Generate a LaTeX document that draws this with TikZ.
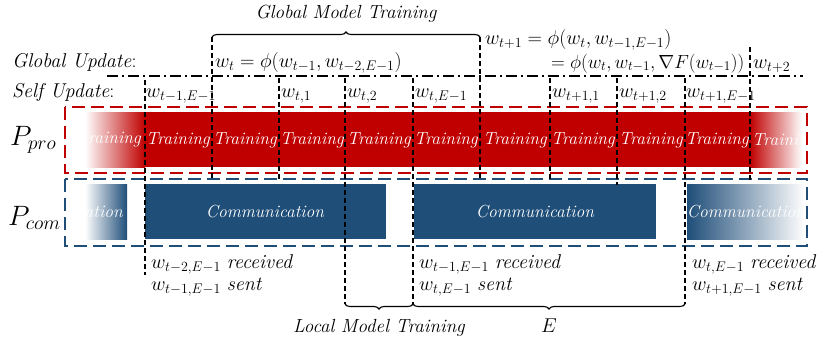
\RequirePackage{fix-cm}
\documentclass[tikz,border=0pt]{standalone}
\usepackage{amsmath, amssymb}
\usepackage{fontspec}
\usepackage{tikz}
\usetikzlibrary{decorations.pathreplacing}
\definecolor{trainred}{RGB}{192,0,0}
\definecolor{commblue}{RGB}{31,78,121}

\begin{document}
\begin{tikzpicture}[x=1pt, y=-1pt,
    label node/.style={anchor=base west, inner sep=0pt, font=\fontsize{20}{24}\selectfont},
    bar text/.style={text=white, inner sep=0pt, font=\fontsize{17.5}{21}\selectfont\itshape},
    time line/.style={line width=1.3pt, dash pattern=on 5pt off 3pt},
    box line/.style={line width=2.3pt, dash pattern=on 13pt off 6pt},
    brace line/.style={decorate, decoration={brace, amplitude=5pt}, line width=1.1pt}]
    \useasboundingbox (0,0) rectangle (830,346);

    \begin{scope}
        \clip (85,100) rectangle (803,250);
        \shade[left color=white, right color=trainred] (85,112) rectangle (145,167);
        \fill[trainred] (145,112) rectangle (750,167);
        \shade[left color=trainred, right color=white] (750,112) rectangle (802,167);
        \shade[left color=white, right color=commblue] (85,184) rectangle (127,239);
        \fill[commblue] (145,184) rectangle (386,239);
        \fill[commblue] (414,184) rectangle (656,239);
        \shade[left color=commblue, right color=white] (687,184) rectangle (805,239);

        \node[bar text, anchor=east] (train0) at (141,140) {raining};
        \foreach \x [count=\i] in {178,245,312,379,446,515,583,651,717}
            \node[bar text] (train\i) at (\x,140) {Training};
        \node[bar text, anchor=west] (train10) at (752,140) {Traini};
        \node[bar text, anchor=east] (comm1) at (123,212) {ation};
        \node[bar text] (comm2) at (265,212) {Communication};
        \node[bar text] (comm3) at (535,212) {Communication};
        \node[bar text] (comm4) at (746,212) {Communication};
    \end{scope}

    \draw[trainred, box line] (65,107) rectangle (807,173);
    \draw[commblue, box line] (65,179) rectangle (807,246);

    \draw[line width=1.3pt, dash pattern=on 11pt off 4pt on 2pt off 4pt] (107,76) -- (803,76);

    \foreach \x/\ya/\yb in {145/80/275, 212/37/180, 279/78/180, 345/78/304, 413/78/304,
                           480/37/180, 550/78/180, 617/78/185, 685/78/304, 750/47/180}
        \draw[time line] (\x,\ya) -- (\x,\yb);

    \draw[brace line] (212,37) -- (480,37);
    \draw[brace line] (413,304) -- (345,304);
    \draw[brace line] (685,304) -- (413,304);

    \node[label node, anchor=base, font=\fontsize{19}{22}\selectfont\itshape] (globaltraining) at (346,18) {Global Model Training};
    \node[label node] (globalupdate) at (12,67) {\textit{Global Update}:};
    \node[label node] (selfupdate) at (12,97) {\textit{Self Update}:};
    \node[label node, font=\fontsize{28}{32}\selectfont] (ppro) at (10,145) {$P_{pro}$};
    \node[label node, font=\fontsize{28}{32}\selectfont] (pcom) at (8,225) {$P_{com}$};

    \node[label node] (globalt) at (215,67) {$w_t = \phi(w_{t-1}, w_{t-2,E-1})$};
    \node[label node] (globaltone) at (485,44) {$w_{t+1} = \phi(w_t, w_{t-1,E-1})$};
    \node[label node, font=\fontsize{19}{22}\selectfont] (globaltonegrad) at (551,68) {$= \phi(w_t, w_{t-1}, \nabla F(w_{t-1}))$};
    \node[label node] (globalttwo) at (753,68) {$w_{t+2}$};

    \foreach \x/\sub [count=\i] in {146/{t-1,E-1}, 281/{t,1}, 347/{t,2}, 415/{t,E-1},
                                   552/{t+1,1}, 619/{t+1,2}, 686/{t+1,E-1}}
        \node[label node] (self\i) at (\x,97) {$w_{\sub}$};

    \node[label node] (received1) at (151,268) {$w_{t-2,E-1}$ \textit{received}};
    \node[label node] (sent1) at (151,290) {$w_{t-1,E-1}$ \textit{sent}};
    \node[label node] (received2) at (419,268) {$w_{t-1,E-1}$ \textit{received}};
    \node[label node] (sent2) at (419,290) {$w_{t,E-1}$ \textit{sent}};
    \node[label node] (received3) at (692,268) {$w_{t,E-1}$ \textit{received}};
    \node[label node] (sent3) at (692,290) {$w_{t+1,E-1}$ \textit{sent}};

    \node[label node, anchor=base, font=\fontsize{19}{22}\selectfont\itshape] (localtraining) at (379,332) {Local Model Training};
    \node[label node, anchor=base] (epochs) at (549,332) {$E$};
\end{tikzpicture}
\end{document}
